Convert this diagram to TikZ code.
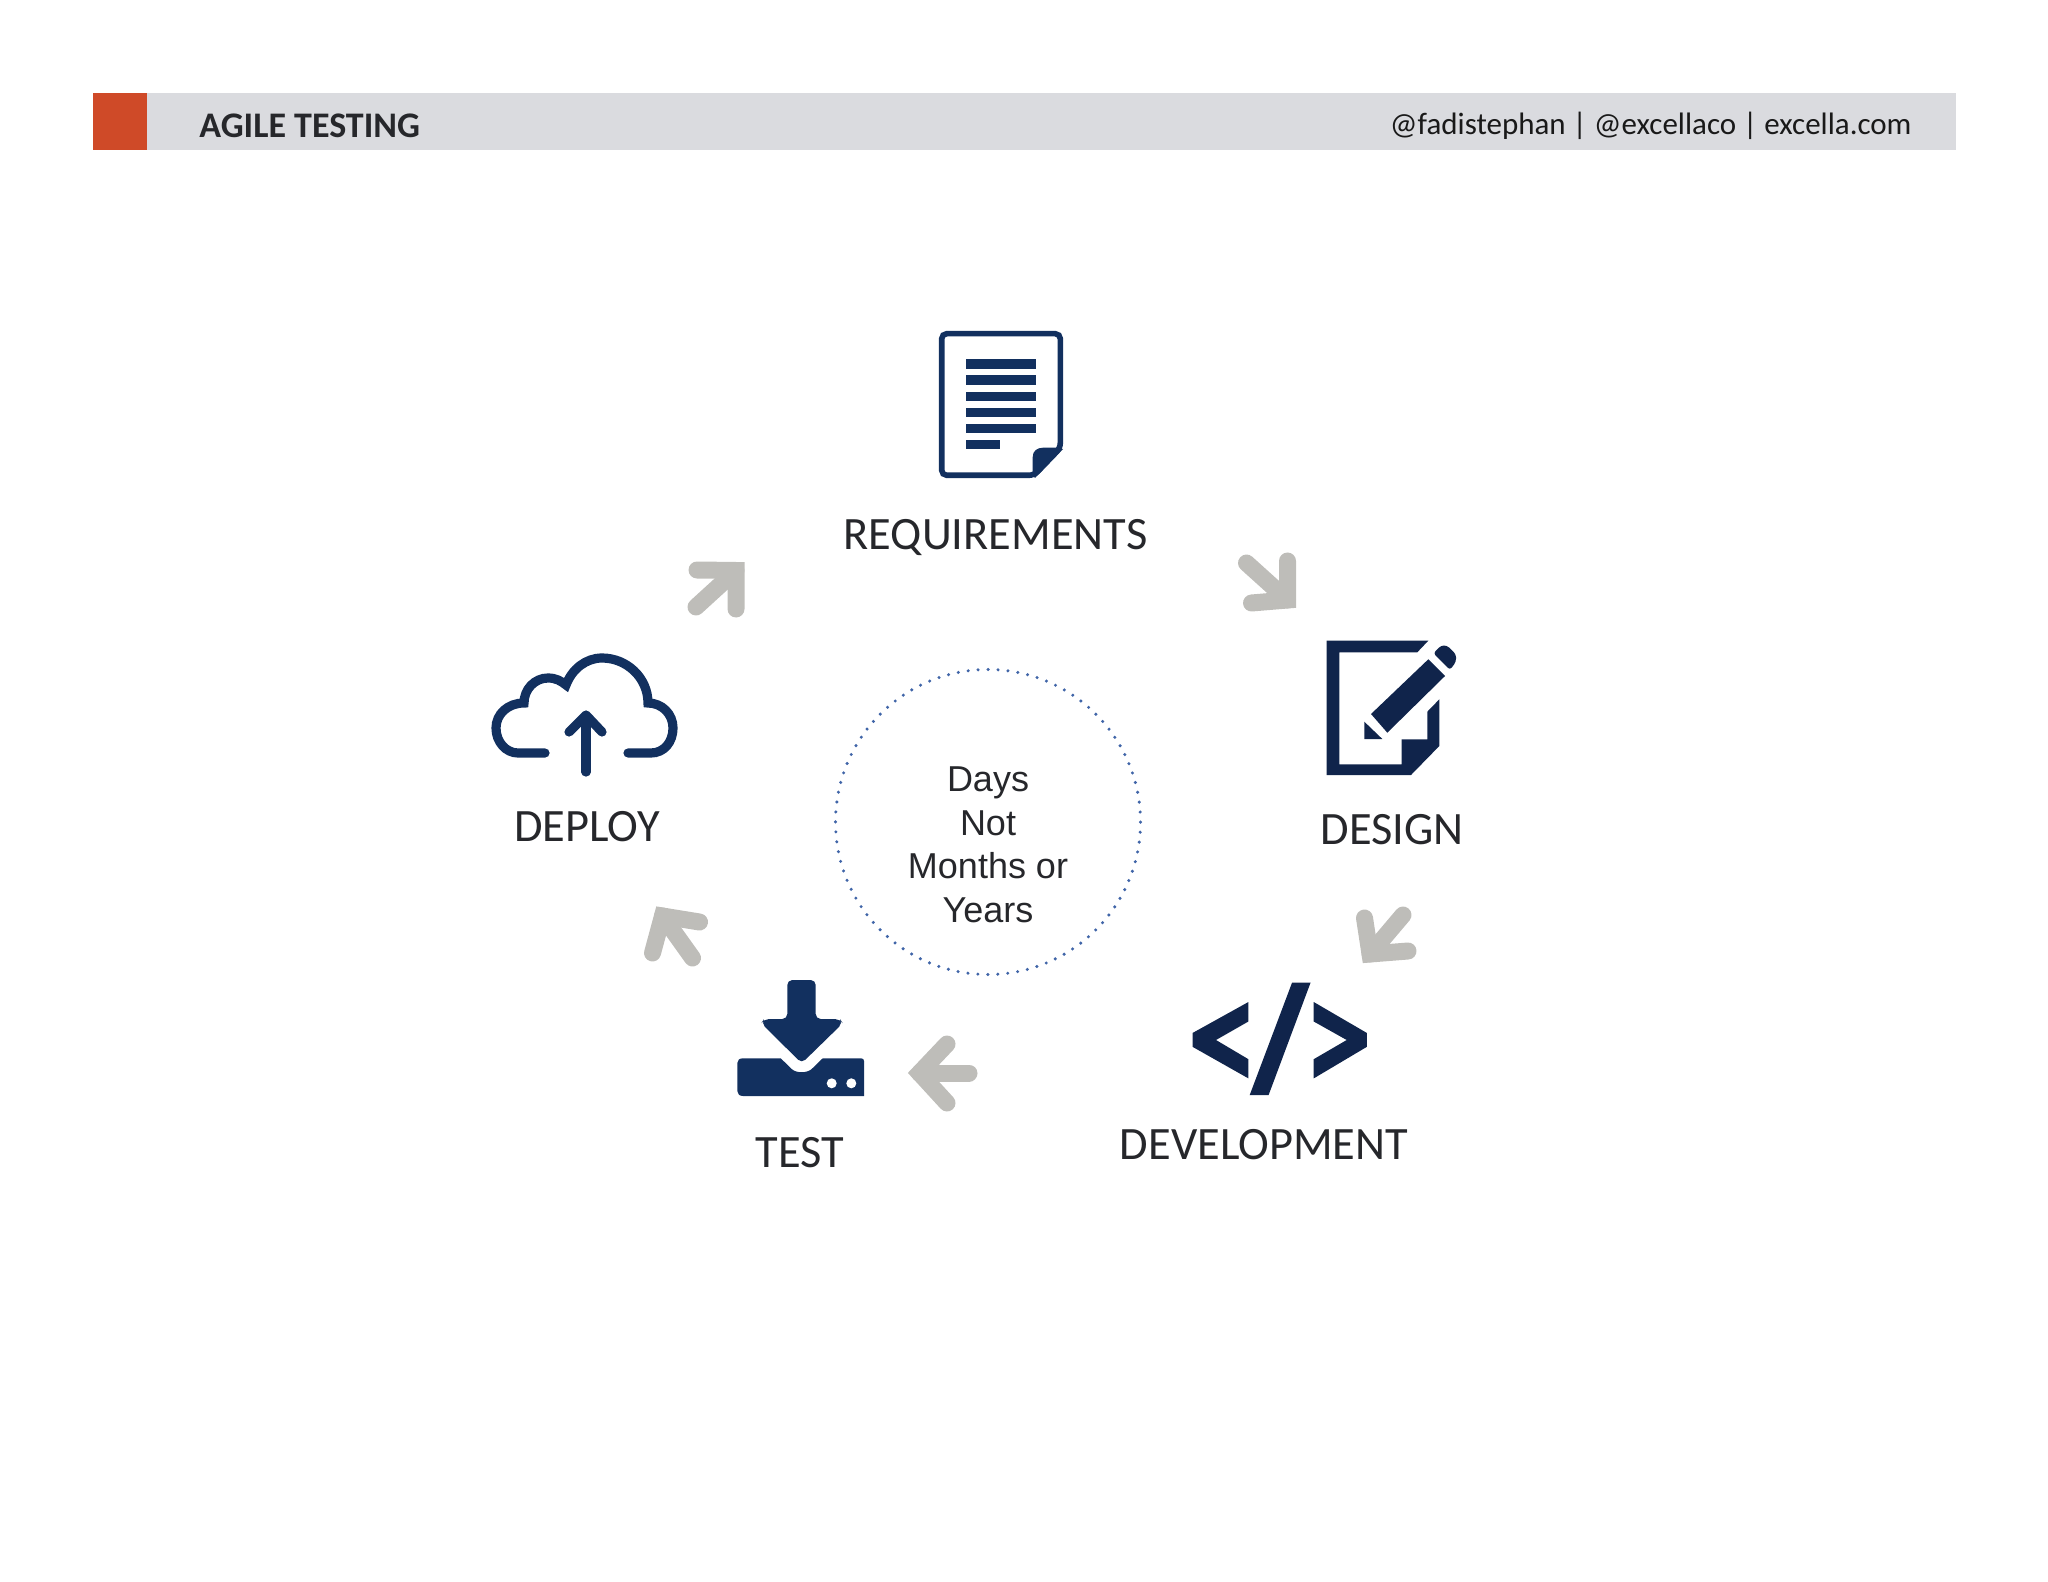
\documentclass[tikz,border=0pt]{standalone}
\usepackage{fontspec}
\setmainfont{Carlito}
\newfontfamily\arialfont{Liberation Sans}
\usetikzlibrary{positioning}
\definecolor{navy}{HTML}{12305F}
\definecolor{inkblue}{HTML}{10244B}
\definecolor{arrowgrey}{HTML}{BEBDB9}
\definecolor{bandgrey}{HTML}{DADBDF}
\definecolor{brick}{HTML}{CF4A28}
\definecolor{labelink}{HTML}{26272B}
\definecolor{dotblue}{HTML}{4065A8}

\begin{document}
\begin{tikzpicture}[x=.5pt,y=-.5pt]
\tikzstyle{phase}=[anchor=base,inner sep=0pt,text=labelink,font=\fontsize{23.2}{28}\selectfont]
\tikzstyle{cyclearrow}=[draw=arrowgrey,line width=8.5pt,line cap=round,line join=miter]
\tikzstyle{solidicon}=[fill=navy,draw=none]
\tikzstyle{darkicon}=[fill=inkblue,draw=none]
\tikzstyle{cloudline}=[draw=navy,line width=4.6pt,line cap=round]
\useasboundingbox (0,0) rectangle (2048,1582);

\fill[bandgrey] (93,93) rectangle (1956,150);
\fill[brick] (93,93) rectangle (147,150);
\node [anchor=base west,inner sep=0pt,text=labelink,font=\fontsize{18}{22}\selectfont\bfseries] (title) at(199,138) {AGILE TESTING};
\node [anchor=base east,inner sep=0pt,text=black!90,font=\fontsize{15.5}{19}\selectfont] (handles) at(1912,134.5) {@fadistephan | @excellaco | excella.com};

\node [phase] (req) at(995.5,550) {REQUIREMENTS};
\node [phase] (design) at(1392,844) {DESIGN};
\node [phase] (dev) at(1264,1159) {DEVELOPMENT};
\node [phase] (test) at(800,1167) {TEST};
\node [phase] (deploy) at(587,841) {DEPLOY};

\node [circle,minimum size=152.5pt,inner sep=0pt,draw=dotblue,line width=1.7pt,line cap=round,dash pattern=on 0pt off 4.99pt] (hub) at(988,822) {};
\node [align=center,inner sep=0pt,text=labelink,font=\arialfont\fontsize{18}{21.75}\selectfont] (hubtext) at(988,844.6) {Days\\Not\\Months or\\Years};

% document
\draw [navy,line width=2.8pt,rounded corners=2.5pt] (941.7,333.7) -- (1060.3,333.7) -- (1060.3,448) -- (1034,475.3) -- (941.7,475.3) -- cycle;
\foreach \y in {359.3,375.3,391.7,407.7,423.7} \fill [navy] (966,\y) rectangle (1036,\y+9.7);
\fill [navy] (966,439.7) rectangle (1000,449.4);
\path [solidicon] (1063,449) -- (1056.7,447.7) -- (1043,447.7) .. controls (1037,447.7) and (1032.7,451) .. (1032.7,457) -- (1032.7,475) -- (1035,478) -- cycle;

% pencil
\path [darkicon] (1326.7,640.7) -- (1428.3,640.7) -- (1417.3,652.3) -- (1339.3,652.3) -- (1339.3,764.3) -- (1401.7,764.3) -- (1401.7,739.3) -- (1427.3,739.3) -- (1427.3,711.7) -- (1439.3,699.3) -- (1439.3,746) -- (1411,775) -- (1326.7,775) -- cycle;
\path [darkicon] (1371,714) -- (1428.3,659.3) -- (1445,676) -- (1387.3,732.7) -- cycle;
\path [darkicon] (1364.3,721.7) -- (1382.3,739) -- (1364.3,739) -- cycle;
\path [darkicon,rounded corners=1.5pt] (1433.3,653.3) -- (1441,645.5) -- (1447,645.5) -- (1456,654.3) -- (1456,661.7) -- (1450,670) -- cycle;

% code
\path [darkicon] (1248.4,1002) -- (1192.5,1033) -- (1192.5,1046.8) -- (1248.4,1078.4) -- (1248.4,1059.2) -- (1216,1040) -- (1248.4,1021.5) -- cycle;
\path [darkicon] (1292.1,982.5) -- (1310.6,982.5) -- (1268.6,1095) -- (1249.7,1095) -- cycle;
\path [darkicon] (1313.7,1002) -- (1366.9,1033) -- (1366.9,1046.8) -- (1313.7,1078.4) -- (1313.7,1059.2) -- (1346.7,1040) -- (1313.7,1021.5) -- cycle;

% download
\path [solidicon,rounded corners=2.5pt] (787.3,980) -- (815.7,980) -- (815.7,1019) -- (840,1019) -- (842.7,1023.3) -- (801.7,1063.3) -- (761.3,1023.3) -- (764,1019) -- (787.3,1019) -- cycle;
\path [solidicon] (743,1058.3) -- (780.7,1058.3) -- (791.7,1069) .. controls (796,1073.3) and (807,1073.3) .. (811.7,1069) -- (822.7,1058.3) -- (861,1058.3) .. controls (863,1058.3) and (864,1059.5) .. (864,1061) -- (864,1096) -- (743,1096) .. controls (739.5,1096) and (737.3,1094) .. (737.3,1091) -- (737.3,1063) .. controls (737.3,1060) and (739.5,1058.3) .. (743,1058.3) -- cycle;
\fill [white] (831.7,1083.3) circle (2.5pt);
\fill [white] (851.3,1083.3) circle (2.5pt);

% cloud
\draw [cloudline] (545,753) -- (518,753) .. controls (506,753) and (496,742) .. (496,728) .. controls (496,714) and (508,703) .. (524,703) .. controls (524,689) and (535,678) .. (548,678) .. controls (556,678) and (561,681) .. (566,685) .. controls (572,669) and (586,658) .. (602,658) .. controls (627,658) and (648,678) .. (648,703) .. controls (662,703) and (673,714) .. (673,728) .. controls (673,742) and (664,753) .. (651,753) -- (628,753);
\draw [cloudline,line join=round] (586,772) -- (586,716);
\draw [cloudline,line join=round] (569,732) -- (586,715) -- (602,732);

\coordinate (a1tail) at(1246.5,563);
\coordinate (a1tip) at(1287.5,600);
\coordinate (a1up) at(1287.5,561);
\coordinate (a1side) at(1251.5,603);
\coordinate (a2tail) at(1403,915);
\coordinate (a2tip) at(1370,954);
\coordinate (a2up) at(1364.5,918);
\coordinate (a2side) at(1408,951);
\coordinate (a3tail) at(969,1073);
\coordinate (a3tip) at(919.5,1073);
\coordinate (a3up) at(947,1044);
\coordinate (a3side) at(947,1103);
\coordinate (a4tail) at(692.5,958);
\coordinate (a4tip) at(662.5,916);
\coordinate (a4up) at(652.5,953);
\coordinate (a4side) at(699.5,922);
\coordinate (a5tail) at(696,607);
\coordinate (a5tip) at(736,570.5);
\coordinate (a5up) at(697,570);
\coordinate (a5side) at(736,609);

\foreach \a in {a1,a2,a3,a4,a5} {
\draw [cyclearrow] (\a up) -- (\a tip) -- (\a side);
\draw [cyclearrow] (\a tail) -- (\a tip);
}
\end{tikzpicture}
\end{document}
